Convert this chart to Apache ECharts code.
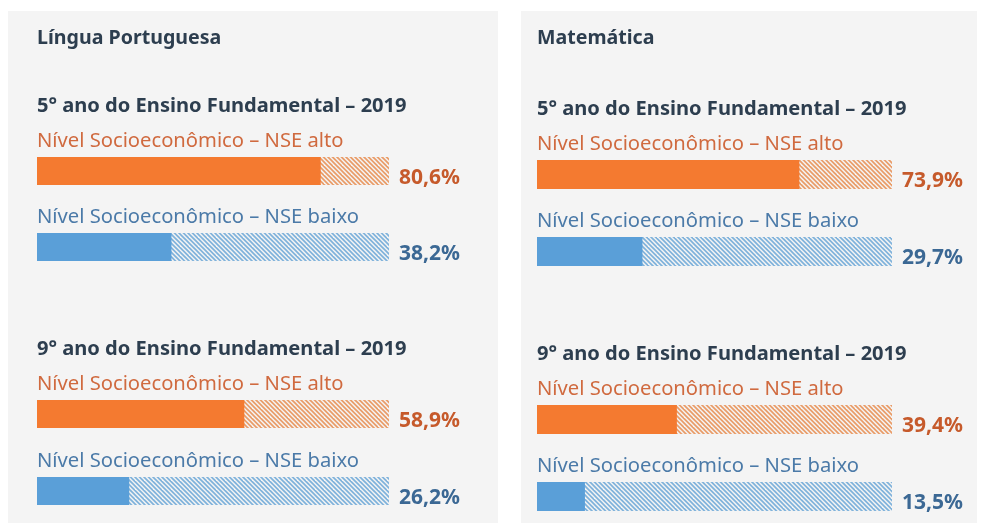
<!DOCTYPE html>
<html>
<head>
<meta charset="utf-8">
<script src="https://cdn.jsdelivr.net/npm/echarts@6/dist/echarts.min.js"></script>
<style>
  html, body { margin: 0; padding: 0; background: #ffffff; }
  #main { width: 982px; height: 523px; }
</style>
</head>
<body>
<div id="main"></div>
<script>
// dados
const disciplinas = ['Língua Portuguesa', 'Matemática'];
const anos = ['5° ano do Ensino Fundamental – 2019', '9° ano do Ensino Fundamental – 2019'];
const grupos = ['Nível Socioeconômico – NSE alto', 'Nível Socioeconômico – NSE baixo'];
// ordem: 5º alto, 5º baixo, 9º alto, 9º baixo
const valoresPortugues = [80.6, 38.2, 58.9, 26.2];
const valoresMatematica = [73.9, 29.7, 39.4, 13.5];
const valores = [valoresPortugues, valoresMatematica];

// layout
const painelX = [8, 521];
const painelW = [490, 456];
const barX = [37, 537];
const barW = [352, 355];
const barH = [28, 29];
const barTop = [[157, 233, 400, 477], [160, 237, 405, 482]];

const corEscura = '#2d3e4f';
const corBarra = ['#f47a30', '#5a9fd8'];
const corHachura = ['#e99c68', '#7fb2db'];
const corTexto = ['#d06a3f', '#4b7aa8'];
const corValor = ['#c65a2b', '#3b6894'];
const fonte = '"Noto Sans", sans-serif';

function hachura(color) {
  const c = document.createElement('canvas');
  c.width = 9; c.height = 9;
  const ctx = c.getContext('2d');
  ctx.strokeStyle = color;
  ctx.lineWidth = 1.7;
  [-9, -4.5, 0, 4.5, 9].forEach(k => {
    ctx.beginPath();
    ctx.moveTo(k - 1, -1);
    ctx.lineTo(k + 10, 10);
    ctx.stroke();
  });
  return c;
}
const padroes = [hachura(corHachura[0]), hachura(corHachura[1])];

const fmt = v => v.toFixed(1).replace('.', ',') + '%';

let grids = [], xAxes = [], yAxes = [], series = [], graphics = [];

for (let p = 0; p < 2; p++) {
  graphics.push({
    type: 'rect', z: -10,
    shape: { x: painelX[p], y: 11, width: painelW[p], height: 520 },
    style: { fill: '#f4f4f4' }
  });
  graphics.push({
    type: 'text', z: 10,
    style: { text: disciplinas[p], x: barX[p], y: 38, fill: corEscura,
      font: 'bold 19.6px ' + fonte, textVerticalAlign: 'middle' }
  });
  for (let j = 0; j < 4; j++) {
    const idx = grids.length;
    const tipo = j % 2; // 0 alto, 1 baixo
    const top = barTop[p][j];
    if (tipo === 0) {
      graphics.push({
        type: 'text', z: 10,
        style: { text: anos[j / 2], x: barX[p], y: top - 51, fill: corEscura,
          font: 'bold 20.1px ' + fonte, textVerticalAlign: 'middle' }
      });
    }
    graphics.push({
      type: 'text', z: 10,
      style: { text: grupos[tipo], x: barX[p], y: top - 16, fill: corTexto[tipo],
        font: '20.2px ' + fonte, textVerticalAlign: 'middle' }
    });
    grids.push({ left: barX[p], top: top, width: barW[p], height: barH[p] });
    xAxes.push({ type: 'value', gridIndex: idx, min: 0, max: 100, show: false });
    yAxes.push({ type: 'category', gridIndex: idx, data: [grupos[tipo]], show: false });
    const v = valores[p][j];
    series.push({
      type: 'bar', xAxisIndex: idx, yAxisIndex: idx,
      barCategoryGap: '0%', barGap: '-100%', silent: true,
      data: [100],
      itemStyle: { color: { image: padroes[tipo], repeat: 'repeat' } },
      label: {
        show: true, position: 'right', distance: 10, offset: [0, 7],
        formatter: () => fmt(v),
        color: corValor[tipo], fontFamily: fonte, fontWeight: 'bold', fontSize: 21
      }
    });
    series.push({
      type: 'bar', xAxisIndex: idx, yAxisIndex: idx,
      barCategoryGap: '0%', barGap: '-100%', silent: true,
      data: [v],
      itemStyle: { color: corBarra[tipo] }
    });
  }
}

const chart = echarts.init(document.getElementById('main'));
chart.setOption({
  animation: false,
  backgroundColor: '#ffffff',
  grid: grids,
  xAxis: xAxes,
  yAxis: yAxes,
  series: series,
  graphic: { elements: graphics }
});
</script>
</body>
</html>
